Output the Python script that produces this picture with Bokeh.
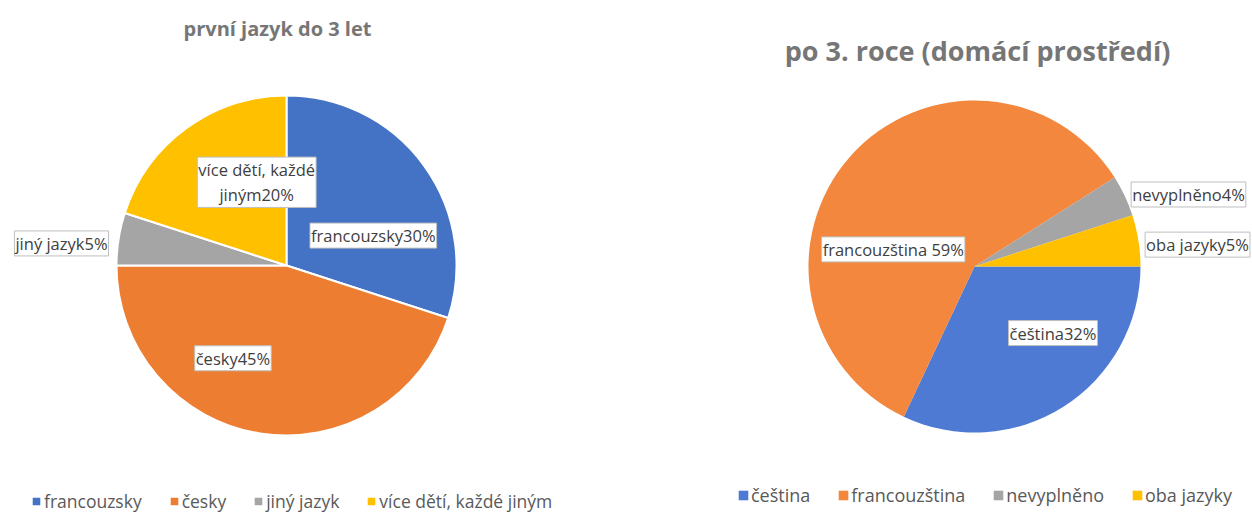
import math
from bokeh.plotting import figure
from bokeh.models import Range1d, ColumnDataSource, Legend, LegendItem
from bokeh.core.properties import value
from bokeh.embed import file_html
from bokeh.resources import INLINE

# ---------------- data ----------------
left_title = "první jazyk do 3 let"
left_cats = ["francouzsky", "česky", "jiný jazyk", "více dětí, každé jiným"]
left_vals = [30, 45, 5, 20]
left_labels = ["francouzsky30%", "česky45%", "jiný jazyk5%", "více dětí, každé\njiným20%"]

right_title = "po 3. roce (domácí prostředí)"
right_cats = ["čeština", "francouzština", "nevyplněno", "oba jazyky"]
right_vals = [32, 59, 4, 5]
right_labels = ["čeština32%", "francouzština 59%", "nevyplněno4%", "oba jazyky5%"]

# ---------------- style / layout ----------------
W, H = 1252, 513
FONT = "Open Sans"
left_colors = ["#4472C4", "#ED7D31", "#A5A5A5", "#FFC000"]
right_colors = ["#4F7AD3", "#F2873D", "#A5A5A5", "#FFC000"]

# pie geometry in screen px (figure coords, y up)
L_CX, L_CY, L_R, L_START = 286, 248, 170, 0.0     # start at 12 o'clock (clockwise deg from top)
R_CX, R_CY, R_R, R_START = 974, 247, 166, 90.0    # start at 3 o'clock
# label placement: radius fraction and angular nudge (deg) relative to slice middle
left_rfrac = [0.54, 0.63, 1.33, 0.52]
left_nudge = [17.0, 21.0, -3.4, 16.3]
right_rfrac = [0.62, 0.50, 1.36, 1.35]
right_nudge = [-17.3, -29.5, 6.6, 3.4]

p = figure(width=W, height=H, x_range=Range1d(0, W), y_range=Range1d(0, H),
           output_backend="svg", toolbar_location=None, min_border=0)
p.axis.visible = False
p.grid.visible = False
p.outline_line_color = None
p.background_fill_color = "white"
p.border_fill_color = "white"


def pie(cx, cy, r, start, vals, labels, colors, rfrac, nudge, line_color, line_width):
    total = float(sum(vals))
    starts, ends, lx, ly = [], [], [], []
    acc = start
    for v, rf, nd in zip(vals, rfrac, nudge):
        span = 360.0 * v / total
        t0, t1 = acc, acc + span
        # convert clockwise-from-top to bokeh anticlockwise-from-x
        starts.append(math.radians(90 - t1))
        ends.append(math.radians(90 - t0))
        mid = math.radians((t0 + t1) / 2 + nd)
        lx.append(cx + rf * r * math.sin(mid))
        ly.append(cy + rf * r * math.cos(mid))
        acc = t1
    src = ColumnDataSource(dict(start=starts, end=ends, color=colors,
                                lx=lx, ly=ly, label=labels))
    rend = p.wedge(x=cx, y=cy, radius=r, start_angle="start", end_angle="end",
                   fill_color="color", line_color=line_color, line_width=line_width,
                   source=src)
    p.text(x="lx", y="ly", text="label", source=src,
           text_font=value(FONT), text_font_size="16.5px", text_color="#404040",
           text_align="center", text_baseline="middle", text_line_height=1.1,
           background_fill_color="white", border_line_color="#BFBFBF",
           border_line_width=1, padding=1)
    return rend


lr = pie(L_CX, L_CY, L_R, L_START, left_vals, left_labels, left_colors,
         left_rfrac, left_nudge, "white", 2)
rr = pie(R_CX, R_CY, R_R, R_START, right_vals, right_labels, right_colors,
         right_rfrac, right_nudge, None, 0)

# titles
p.text(x=[277], y=[485], text=[left_title], text_font=value(FONT),
       text_font_size="20px", text_font_style="bold", text_color="#767676",
       text_align="center", text_baseline="middle")
p.text(x=[977], y=[463], text=[right_title], text_font=value(FONT),
       text_font_size="27px", text_font_style="bold", text_color="#767676",
       text_align="center", text_baseline="middle")


def make_legend(rend, cats, x, y, spacing, size):
    items = [LegendItem(label=c, renderers=[rend], index=i) for i, c in enumerate(cats)]
    lg = Legend(items=items, orientation="horizontal", location=(x, y),
                glyph_width=12, glyph_height=12, label_standoff=2, spacing=spacing,
                padding=0, margin=0, border_line_color=None,
                background_fill_alpha=0, label_height=18,
                label_text_font=FONT, label_text_font_size=size,
                label_text_color="#595959")
    p.add_layout(lg, "center")


make_legend(lr, left_cats, 30, 0, 26, "17.5px")
make_legend(rr, right_cats, 737, 6, 27, "18px")

open("out.html", "w").write(file_html(p, INLINE))
